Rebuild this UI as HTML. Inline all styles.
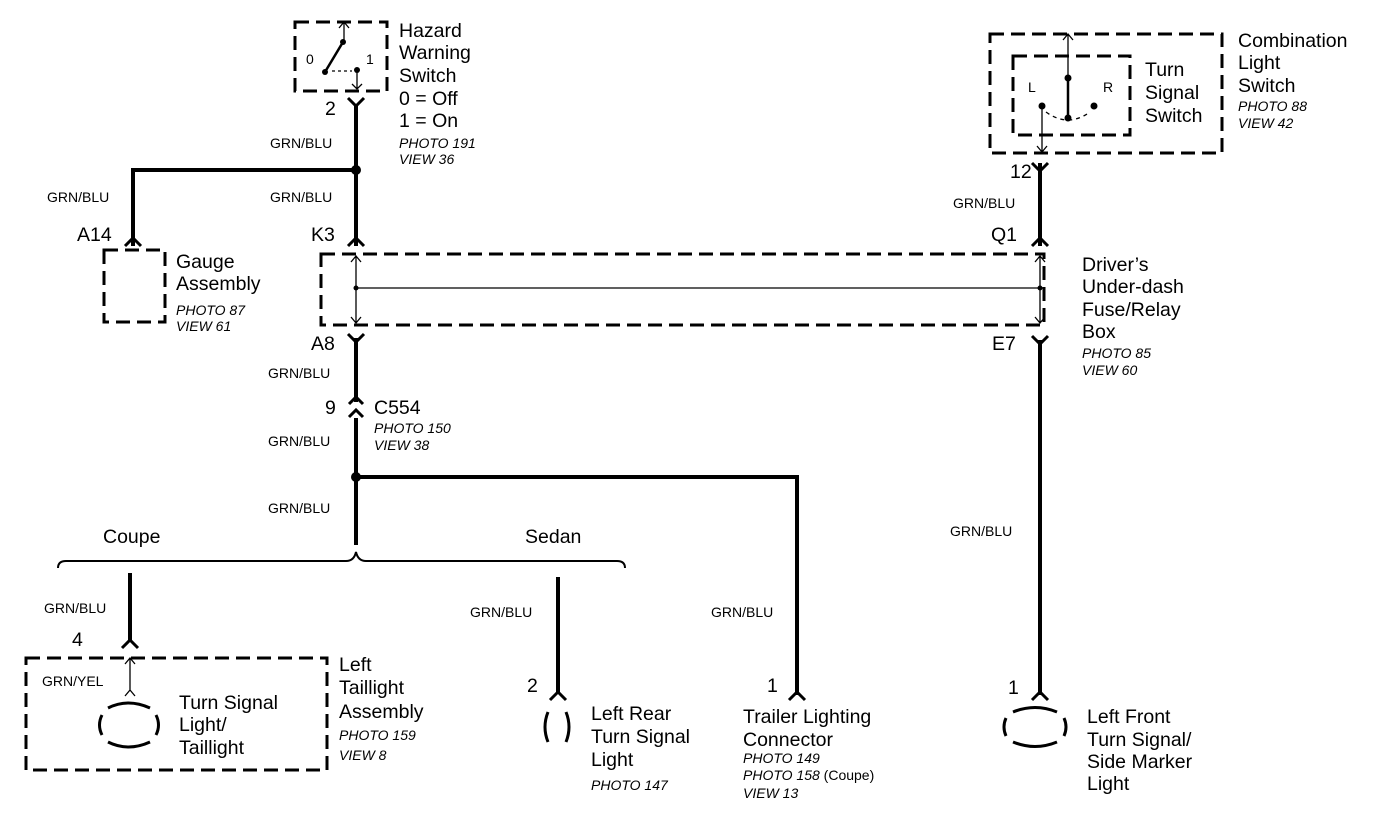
<!DOCTYPE html>
<html><head><style>
html,body{margin:0;padding:0;background:#fff;}
svg{display:block;}
text{font-family:"Liberation Sans",Arial,sans-serif;fill:#000;}
.m{font-size:19.5px;}
.s{font-size:14px;}
.i{font-size:14px;font-style:italic;}
</style></head><body>
<svg width="1392" height="814" viewBox="0 0 1392 814" xmlns="http://www.w3.org/2000/svg">
<g fill="none" stroke="#000">
<g stroke-width="3" stroke-dasharray="14,7">
<rect x="295" y="22" width="92" height="69"/>
<rect x="104" y="250" width="61" height="72"/>
<rect x="321" y="254" width="723" height="71"/>
<rect x="990" y="34" width="232" height="119"/>
<rect x="1013" y="56" width="117" height="79"/>
<rect x="26" y="658" width="301" height="112"/>
</g>
<g stroke-width="4">
<path d="M356 106 V246"/>
<path d="M356 170 H133 V246"/>
<path d="M356 338 V402"/>
<path d="M356 418 V545"/>
<path d="M356 477 H797 V695"/>
<path d="M1040 163 V246"/>
<path d="M1040 340 V695"/>
<path d="M130 573 V640"/>
<path d="M558 577 V693"/>
</g>
<path stroke-width="2" d="M58 568 Q58 561 66 561 H346 Q354 561 356 552 Q358 561 366 561 H617 Q625 561 625 568"/>
<g stroke-width="3">
<path d="M348 98 L356 106 L364 98"/>
<path d="M348 246 L356 238 L364 246"/>
<path d="M125 246 L133 238 L141 246"/>
<path d="M348 334 L356 342 L364 334"/>
<path d="M349 404 L356 397 L363 404 M349 417 L356 410 L363 417"/>
<path d="M1032 163 L1040 171 L1048 163"/>
<path d="M1032 246 L1040 238 L1048 246"/>
<path d="M1032 336 L1040 344 L1048 336"/>
<path d="M122 648 L130 640 L138 648"/>
<path d="M550 700 L558 692 L566 700"/>
<path d="M789 700 L797 692 L805 700"/>
<path d="M1032 700 L1040 692 L1048 700"/>
</g>
<g stroke-width="1.3">
<path d="M356 256 V323 M351 262 L356 256 L361 262 M351 317 L356 323 L361 317"/>
<path d="M356 288 H1040"/>
<path d="M1040 256 V323 M1035 262 L1040 256 L1045 262 M1035 317 L1040 323 L1045 317"/>
<path d="M344 22 V42 M339 28 L344 22 L349 28"/>
<path d="M357 70 V89 M352 84 L357 89 L362 84"/>
<path d="M1068 34 V78 M1063 40 L1068 34 L1073 40"/>
<path d="M1042 106 V152 M1037 146 L1042 152 L1047 146"/>
<path d="M1046 112 Q1068 128 1090 112" stroke-dasharray="4,4"/>
<path d="M130 658 V690 M125 664 L130 658 L135 664 M125 696 L130 690 L135 696"/>
<path d="M332 71 H352" stroke-dasharray="3,3"/>
</g>
<path stroke-width="2.5" d="M325 72 L343 42"/>
<path stroke-width="2.5" d="M1068 78 V118"/>
<g stroke-width="3">
<path d="M108 708 Q128 698 150 708" /><path d="M108 742 Q128 752 150 742"/>
<path d="M102 715 Q97 725 102 735"/><path d="M156 715 Q161 725 156 735"/>
<path d="M548 712 Q542 727 548 742"/><path d="M566 712 Q572 727 566 742"/>
<path d="M1013 712 Q1035 703 1057 712"/><path d="M1013 742 Q1035 751 1057 742"/>
<path d="M1006 718 Q1002 727 1006 736"/><path d="M1064 718 Q1068 727 1064 736"/>
</g>
</g>
<g fill="#000">
<circle cx="356" cy="170" r="5"/><circle cx="356" cy="477" r="5"/>
<circle cx="325" cy="72" r="3"/><circle cx="343" cy="42" r="3"/><circle cx="357" cy="70" r="3"/>
<circle cx="356" cy="288" r="2.5"/><circle cx="1040" cy="288" r="2.5"/>
<circle cx="1068" cy="78" r="3.5"/><circle cx="1068" cy="118" r="3.5"/>
<circle cx="1042" cy="106" r="3.5"/><circle cx="1094" cy="106" r="3.5"/>
</g>
<text class="s" x="306" y="64">0</text><text class="s" x="366" y="64">1</text>
<text class="s" x="1028" y="92">L</text><text class="s" x="1103" y="92">R</text>
<g>
<text class="m" x="399" y="37">Hazard</text>
<text class="m" x="399" y="59">Warning</text>
<text class="m" x="399" y="82">Switch</text>
<text class="m" x="399" y="105">0 = Off</text>
<text class="m" x="399" y="127">1 = On</text>
<text class="m" x="325" y="115">2</text>
<text class="m" x="311" y="241">K3</text>
<text class="m" x="77" y="241">A14</text>
<text class="m" x="176" y="268">Gauge</text>
<text class="m" x="176" y="290">Assembly</text>
<text class="m" x="311" y="350">A8</text>
<text class="m" x="325" y="414">9</text>
<text class="m" x="374" y="414">C554</text>
<text class="m" x="1238" y="47">Combination</text>
<text class="m" x="1238" y="69">Light</text>
<text class="m" x="1238" y="92">Switch</text>
<text class="m" x="1145" y="76">Turn</text>
<text class="m" x="1145" y="99">Signal</text>
<text class="m" x="1145" y="122">Switch</text>
<text class="m" x="1010" y="178">12</text>
<text class="m" x="991" y="241">Q1</text>
<text class="m" x="1082" y="271">Driver’s</text>
<text class="m" x="1082" y="293">Under-dash</text>
<text class="m" x="1082" y="316">Fuse/Relay</text>
<text class="m" x="1082" y="338">Box</text>
<text class="m" x="992" y="350">E7</text>
<text class="m" x="103" y="543">Coupe</text>
<text class="m" x="525" y="543">Sedan</text>
<text class="m" x="72" y="646">4</text>
<text class="m" x="179" y="709">Turn Signal</text>
<text class="m" x="179" y="731">Light/</text>
<text class="m" x="179" y="754">Taillight</text>
<text class="m" x="339" y="671">Left</text>
<text class="m" x="339" y="694">Taillight</text>
<text class="m" x="339" y="718">Assembly</text>
<text class="m" x="527" y="692">2</text>
<text class="m" x="591" y="720">Left Rear</text>
<text class="m" x="591" y="743">Turn Signal</text>
<text class="m" x="591" y="766">Light</text>
<text class="m" x="767" y="692">1</text>
<text class="m" x="743" y="723">Trailer Lighting</text>
<text class="m" x="743" y="746">Connector</text>
<text class="m" x="1008" y="694">1</text>
<text class="m" x="1087" y="723">Left Front</text>
<text class="m" x="1087" y="746">Turn Signal/</text>
<text class="m" x="1087" y="768">Side Marker</text>
<text class="m" x="1087" y="790">Light</text>
</g>
<g>
<text class="s" x="270" y="148">GRN/BLU</text>
<text class="s" x="270" y="202">GRN/BLU</text>
<text class="s" x="47" y="202">GRN/BLU</text>
<text class="s" x="268" y="378">GRN/BLU</text>
<text class="s" x="268" y="446">GRN/BLU</text>
<text class="s" x="268" y="513">GRN/BLU</text>
<text class="s" x="953" y="208">GRN/BLU</text>
<text class="s" x="950" y="536">GRN/BLU</text>
<text class="s" x="44" y="613">GRN/BLU</text>
<text class="s" x="470" y="617">GRN/BLU</text>
<text class="s" x="711" y="617">GRN/BLU</text>
<text class="s" x="42" y="686">GRN/YEL</text>
</g>
<g>
<text class="i" x="399" y="148">PHOTO 191</text>
<text class="i" x="399" y="164">VIEW 36</text>
<text class="i" x="176" y="315">PHOTO 87</text>
<text class="i" x="176" y="331">VIEW 61</text>
<text class="i" x="374" y="433">PHOTO 150</text>
<text class="i" x="374" y="450">VIEW 38</text>
<text class="i" x="1238" y="111">PHOTO 88</text>
<text class="i" x="1238" y="128">VIEW 42</text>
<text class="i" x="1082" y="358">PHOTO 85</text>
<text class="i" x="1082" y="375">VIEW 60</text>
<text class="i" x="339" y="740">PHOTO 159</text>
<text class="i" x="339" y="760">VIEW 8</text>
<text class="i" x="591" y="790">PHOTO 147</text>
<text class="i" x="743" y="763">PHOTO 149</text>
<text class="i" x="743" y="780">PHOTO 158 <tspan font-style="normal">(Coupe)</tspan></text>
<text class="i" x="743" y="798">VIEW 13</text>
</g>
</svg>
</body></html>
